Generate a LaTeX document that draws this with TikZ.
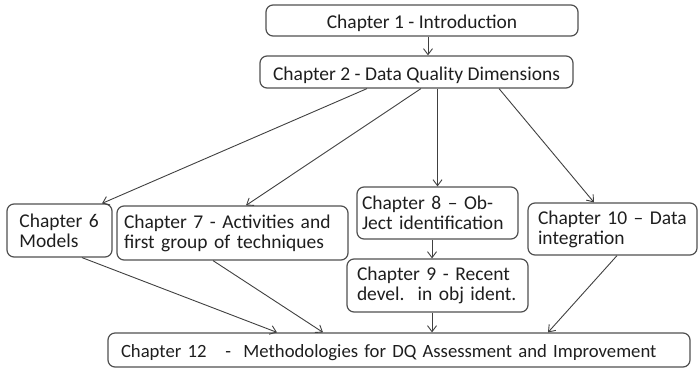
\documentclass[tikz,border=0pt]{standalone}
\usepackage{fontspec}
\setmainfont{Carlito}
\usetikzlibrary{arrows.meta}
\definecolor{boxline}{HTML}{505050}
\definecolor{arrowline}{HTML}{404040}
\definecolor{inktext}{HTML}{1E1E1E}
\tikzset{
  chapter/.style={draw=boxline, line width=1.2pt, rounded corners=7pt,
    text=inktext, font=\fontsize{19.5}{20}\selectfont, inner sep=0pt},
  onerow/.style={chapter, align=center, text height=16pt, text depth=0pt},
  tworow/.style={chapter, align=left},
  link/.style={draw=arrowline, line width=0.9pt,
    -{Straight Barb[length=6pt,width=9pt]}}
}
\begin{document}
\begin{tikzpicture}[x=1pt,y=-1pt]
\useasboundingbox (0,0) rectangle (700,370);

% top of the chain
\node[onerow, minimum width=312pt, minimum height=31pt] (ch1) at (422,20.5)
  {Chapter 1 - Introduction};
\node[onerow, minimum width=313pt, minimum height=32pt] (ch2) at (416.5,72)
  {Chapter 2 - Data Quality Dimensions};

% middle row
\node[tworow, minimum width=105pt, minimum height=53pt, text width=80pt] (ch6) at (59.5,230.5)
  {Chapter 6\\Models};
\node[tworow, minimum width=231pt, minimum height=54pt, text width=217pt] (ch7) at (232.5,233)
  {Chapter 7 - Activities and\\first group of techniques};
\node[tworow, minimum width=161pt, minimum height=52pt, text width=151pt] (ch8) at (437.5,213)
  {Chapter 8 – Ob-\\Ject identification};
\node[tworow, minimum width=181pt, minimum height=53pt, text width=161pt] (ch9) at (437.5,285.5)
  {Chapter 9 - Recent\\devel.\ \ in obj ident.};
\node[tworow, minimum width=169pt, minimum height=52pt, text width=149pt] (ch10) at (612.5,229)
  {Chapter 10 – Data\\integration};

% bottom, set a little smaller so the long title stays on one line
\node[tworow, font=\fontsize{18.7}{20}\selectfont, text height=15pt, text depth=0pt,
  minimum width=582pt, minimum height=34pt, text width=556pt] (ch12) at (399,350)
  {Chapter 12\ \ \ -\ \ Methodologies for DQ Assessment and Improvement};

% connectors
\draw[link] ([xshift=6pt]ch1.south) -- ([xshift=6pt]ch1.south |- ch2.north);
\draw[link] ([xshift=-49.5pt]ch2.south) -- ([xshift=42.5pt]ch6.north);
\draw[link] ([xshift=4.5pt]ch2.south) -- ([xshift=13.5pt]ch7.north);
\draw[link] (ch2.south -| ch8.north) -- (ch8.north);
\draw[link] ([xshift=82.5pt]ch2.south) -- ([xshift=-18.5pt]ch10.north);
\draw[link] ([xshift=-5.5pt]ch8.south) -- ([xshift=-5.5pt]ch9.north);
\draw[link] ([xshift=-5.5pt]ch9.south) -- ([xshift=-5.5pt]ch9.south |- ch12.north);
\draw[link] ([xshift=22.5pt]ch6.south) -- ([xshift=-122pt]ch12.north);
\draw[link] ([xshift=-19.5pt]ch7.south) -- ([xshift=-76pt]ch12.north);
\draw[link] ([xshift=4.5pt]ch10.south) -- ([xshift=149pt]ch12.north);
\end{tikzpicture}
\end{document}
